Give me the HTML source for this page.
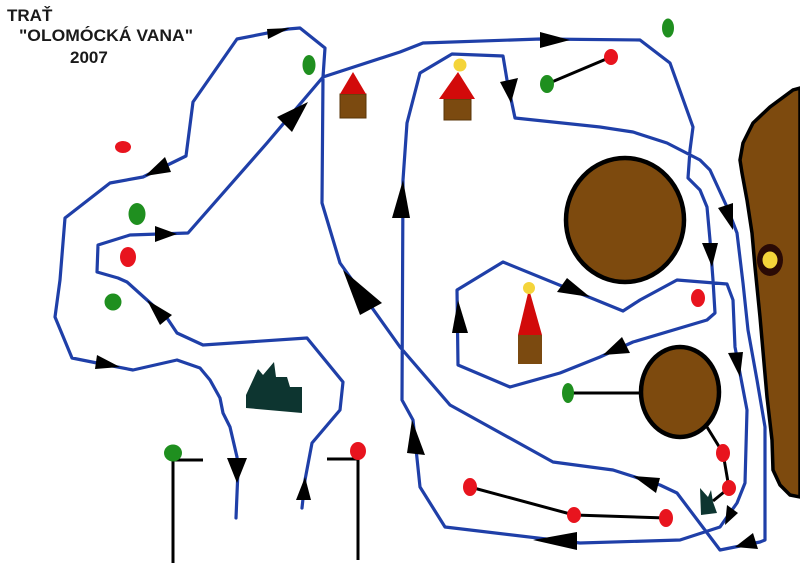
<!DOCTYPE html>
<html><head><meta charset="utf-8"><style>
html,body{margin:0;padding:0;background:#fff;}
svg{display:block;}
text{font-family:"Liberation Sans",Arial,sans-serif;font-weight:bold;fill:#1a1a1a;font-size:17px;}
</style></head><body>
<svg width="800" height="565" viewBox="0 0 800 565" xmlns="http://www.w3.org/2000/svg">
<rect width="800" height="565" fill="#fff"/>
<text x="7" y="21">TRAŤ</text>
<text x="19" y="41" textLength="174" lengthAdjust="spacingAndGlyphs">"OLOMÓCKÁ VANA"</text>
<text x="70" y="63">2007</text>

<!-- right brown region -->
<path d="M800,88 L793,90 L770,107 L753,123 L743,143 L740,160 L742,173 L747,200 L752,233 L755,267 L760,317 L767,397 L772,440 L773,470 L780,485 L790,495 L800,497 Z" fill="#7d4a0e" stroke="#000" stroke-width="3.5"/>
<ellipse cx="770" cy="260" rx="13" ry="16" fill="#2a0a05"/>
<ellipse cx="770" cy="260" rx="7.5" ry="8.5" fill="#f4d43a"/>

<!-- circles -->
<ellipse cx="625" cy="220" rx="59" ry="62" fill="#7d4a0e" stroke="#000" stroke-width="4.5"/>
<ellipse cx="680" cy="392" rx="39" ry="45" fill="#7d4a0e" stroke="#000" stroke-width="4.5"/>

<!-- black connector lines -->
<g stroke="#000" stroke-width="3" fill="none">
<line x1="547" y1="84" x2="611" y2="57"/>
<line x1="568" y1="393" x2="641" y2="393"/>
<line x1="707" y1="427" x2="723" y2="453"/>
<line x1="723" y1="453" x2="729" y2="488"/>
<line x1="729" y1="488" x2="713" y2="501"/>
<polyline points="470,487 574,515 666,518"/>
<polyline points="173,563 173,460 203,460"/>
<polyline points="358,560 358,459 327,459"/>
</g>

<!-- blue route -->
<polyline fill="none" stroke="#1f3fa8" stroke-width="3.2" stroke-linejoin="round" stroke-linecap="round" points="
236,518 238,470 237,457 230,427 223,413 220,398 210,380 200,368 177,360 133,370 97,363 72,358 55,317 60,280 65,218 110,183 143,177 186,156 193,102 237,39 288,29 300,28 325,48 323,77 322,203 340,263 400,347 450,405 553,462 613,470 660,485 677,493 720,550 760,542 765,540 765,427 757,380 748,330 743,283 737,233 727,207 710,170 700,160 667,143 633,132 600,127 515,118 507,80 503,56 452,54 420,73 407,123 403,180 402,400 413,420 420,487 445,527 580,543 680,540 720,527 727,517 737,503 745,483 747,410 735,347 733,300 727,284 677,280 640,300 623,311 503,262 457,290 458,365 510,387 560,373 600,357 633,342 707,320 715,313 713,280 710,240 707,207 700,190 688,178 690,150 693,127 670,63 640,40 540,39 423,43 400,52 323,77 267,143 188,233 130,235 98,245 97,272 118,278 127,282 167,318 177,333 203,345 307,338 343,382 340,410 312,443 305,480 302,508"/>

<!-- arrowheads -->
<g fill="#000">
<polygon points="267,29 290,28 268,39"/>
<polygon points="145,176 165,157 171,172"/>
<polygon points="177,234 155,226 155,242"/>
<polygon points="308,102 277,117 292,132"/>
<polygon points="570,40 540,32 540,48"/>
<polygon points="511,103 500,82 518,78"/>
<polygon points="733,230 718,208 733,203"/>
<polygon points="712,267 702,243 718,243"/>
<polygon points="590,297 557,292 567,278"/>
<polygon points="603,355 622,337 630,353"/>
<polygon points="458,300 452,333 468,333"/>
<polygon points="343,270 360,315 382,303"/>
<polygon points="403,180 392,218 410,218"/>
<polygon points="412,420 407,453 425,455"/>
<polygon points="533,540 577,532 577,550"/>
<polygon points="633,476 660,478 656,493"/>
<polygon points="725,525 727,505 738,513"/>
<polygon points="735,547 753,533 758,549"/>
<polygon points="740,377 728,353 743,352"/>
<polygon points="120,367 97,355 95,369"/>
<polygon points="147,300 160,325 172,315"/>
<polygon points="237,483 227,458 247,458"/>
<polygon points="305,477 296,500 311,500"/>
</g>

<!-- houses -->
<rect x="340" y="94" width="26" height="24" fill="#7b4a10" stroke="#5a3508" stroke-width="1"/>
<polygon points="340,94 353,72 366,94" fill="#d20a0a"/>
<rect x="444" y="99" width="27" height="21" fill="#7b4a10" stroke="#5a3508" stroke-width="1"/>
<polygon points="439,99 458,72 475,99" fill="#d20a0a"/>
<circle cx="460" cy="65" r="6.5" fill="#f4d43a"/>
<rect x="518" y="335" width="24" height="29" fill="#7b4a10"/>
<polygon points="518,335 529,289 542,335" fill="#d20a0a"/>
<circle cx="529" cy="288" r="6" fill="#f4d43a"/>

<!-- dark shapes -->
<polygon points="246,395 258,369 263,375 274,362 276,377 287,377 290,387 302,387 302,413 246,408" fill="#0d3530"/>
<polygon points="700,488 708,497 711,490 713,502 717,513 701,515" fill="#0d3530"/>

<!-- dots -->
<g fill="#1f8f1f">
<ellipse cx="309" cy="65" rx="6.5" ry="10"/>
<ellipse cx="137" cy="214" rx="8.5" ry="11"/>
<ellipse cx="113" cy="302" rx="8.5" ry="8.5"/>
<ellipse cx="173" cy="453" rx="9" ry="8.5"/>
<ellipse cx="668" cy="28" rx="6" ry="9.5"/>
<ellipse cx="547" cy="84" rx="7" ry="9"/>
<ellipse cx="568" cy="393" rx="6" ry="10"/>
</g>
<g fill="#e8141e">
<ellipse cx="123" cy="147" rx="8" ry="6"/>
<ellipse cx="128" cy="257" rx="8" ry="10"/>
<ellipse cx="358" cy="451" rx="8" ry="9"/>
<ellipse cx="611" cy="57" rx="7" ry="8"/>
<ellipse cx="698" cy="298" rx="7" ry="9"/>
<ellipse cx="723" cy="453" rx="7" ry="9"/>
<ellipse cx="729" cy="488" rx="7" ry="8"/>
<ellipse cx="470" cy="487" rx="7" ry="9"/>
<ellipse cx="574" cy="515" rx="7" ry="8"/>
<ellipse cx="666" cy="518" rx="7" ry="9"/>
</g>
</svg>
</body></html>
